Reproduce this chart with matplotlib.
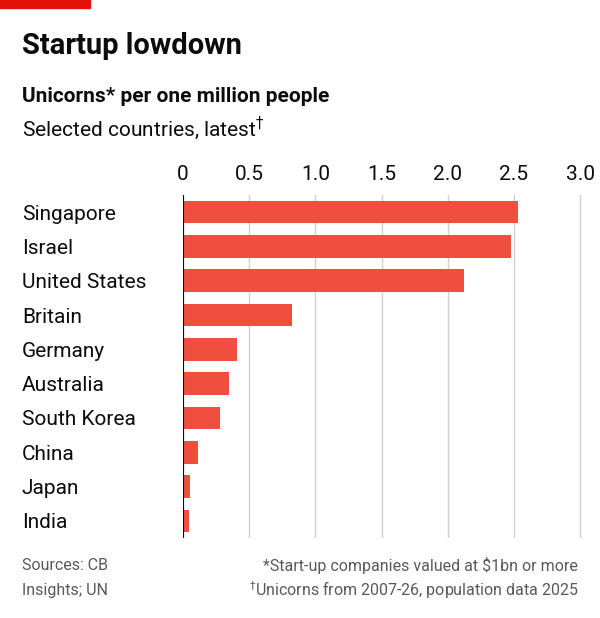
import matplotlib.pyplot as plt
from matplotlib.patches import Rectangle

countries = ["Singapore", "Israel", "United States", "Britain", "Germany",
             "Australia", "South Korea", "China", "Japan", "India"]
values = [2.53, 2.48, 2.12, 0.82, 0.41, 0.35, 0.28, 0.11, 0.05, 0.045]
ticks = [0, 0.5, 1.0, 1.5, 2.0, 2.5, 3.0]
tick_labels = ["0", "0.5", "1.0", "1.5", "2.0", "2.5", "3.0"]

W, H = 600, 618
fig = plt.figure(figsize=(6, 6.18), dpi=100)
fig.patch.set_facecolor("white")
plt.rcParams['font.family'] = ['Roboto', 'DejaVu Sans']

# red tag
fig.patches.append(Rectangle((0, 1 - 8 / H), 90 / W, 8 / H, transform=fig.transFigure,
                             color="#E3120B", zorder=5))

fig.text(22 / W, 1 - 46 / H, "Startup lowdown", fontsize=21, fontweight="bold",
         va="center", color="#0C0C0C")
fig.text(22 / W, 1 - 96 / H, "Unicorns* per one million people", fontsize=15,
         fontweight="bold", va="center", color="#0C0C0C")
fig.text(22 / W, 1 - 128 / H, "Selected countries, latest$^{\u2020}$", fontsize=15,
         va="center", color="#0C0C0C")

ax = fig.add_axes([183 / W, 1 - 538 / H, (590 - 183) / W, (538 - 195) / H])
y = list(range(len(countries)))
ax.barh(y, values, height=0.66, color="#F04E3E", zorder=3)
ax.set_ylim(len(countries) - 0.5, -0.5)
ax.set_xlim(0, 3.0 + 10 / 132.5)
ax.set_xticks(ticks)
ax.set_xticklabels(tick_labels)
ax.xaxis.tick_top()
ax.tick_params(axis="x", length=0, labelsize=15, pad=8, colors="#0C0C0C")
ax.set_yticks(y)
ax.set_yticklabels(countries)
ax.tick_params(axis="y", length=0, labelsize=15, pad=0, colors="#0C0C0C")
for lab in ax.get_yticklabels():
    lab.set_horizontalalignment("left")
    lab.set_x(-(183 - 22) / (590 - 183))
ax.grid(axis="x", color="#D0D0D0", lw=1, zorder=0)
for s in ax.spines.values():
    s.set_visible(False)
ax.axvline(0, color="#0C0C0C", lw=1.5, zorder=4)
ax.set_facecolor("none")

fig.text(22 / W, 1 - 565 / H, "Sources: CB", fontsize=11.5, color="#595959", va="center")
fig.text(22 / W, 1 - 590 / H, "Insights; UN", fontsize=11.5, color="#595959", va="center")
fig.text(578 / W, 1 - 565 / H, "*Start-up companies valued at $1bn or more",
         fontsize=11.5, color="#595959", va="center", ha="right")
fig.text(578 / W, 1 - 590 / H, "$^{\u2020}$Unicorns from 2007-26, population data 2025",
         fontsize=11.5, color="#595959", va="center", ha="right")

fig.savefig("out.png", dpi=100, facecolor=fig.get_facecolor())
